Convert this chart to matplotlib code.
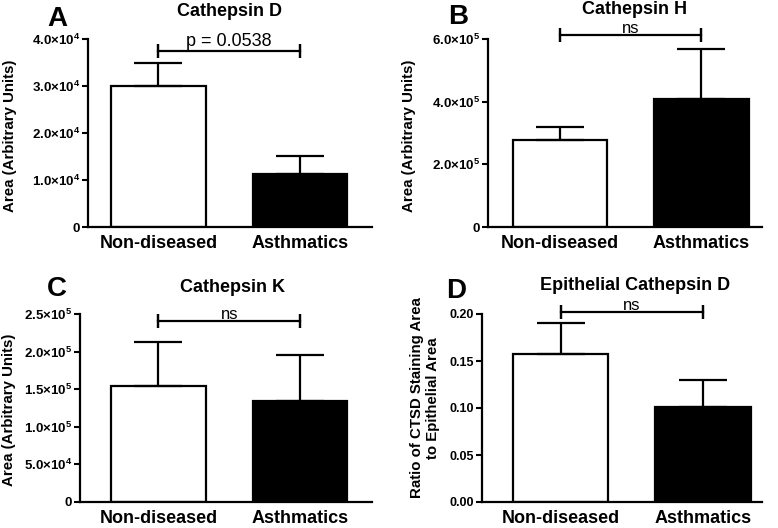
import matplotlib
matplotlib.use("Agg")
import matplotlib.pyplot as plt
import numpy as np

plt.rcParams['font.family'] = ['Liberation Sans', 'DejaVu Sans']
plt.rcParams['mathtext.fontset'] = 'custom'
plt.rcParams['mathtext.rm'] = 'Liberation Sans'
plt.rcParams['mathtext.bf'] = 'Liberation Sans:bold'
plt.rcParams['mathtext.it'] = 'Liberation Sans:italic'

# ---------------- data ----------------
groups = ["Non-diseased", "Asthmatics"]
bar_colors = ["white", "black"]

titles = ["Cathepsin D", "Cathepsin H", "Cathepsin K", "Epithelial Cathepsin D"]
letters = ["A", "B", "C", "D"]
ylabels = ["Area (Arbitrary Units)", "Area (Arbitrary Units)",
           "Area (Arbitrary Units)", "Ratio of CTSD Staining Area\nto Epithelial Area"]

means_A = [30000, 11300]
sem_A = [4900, 3800]
means_B = [2.78e5, 4.09e5]
sem_B = [0.41e5, 1.59e5]
means_C = [1.545e5, 1.34e5]
sem_C = [0.585e5, 0.61e5]
means_D = [0.157, 0.101]
sem_D = [0.033, 0.029]

ticks_A = [0, 1e4, 2e4, 3e4, 4e4]
ticklabels_A = ["0", r"$\mathbf{1.0{\times}10^{4}}$", r"$\mathbf{2.0{\times}10^{4}}$",
                r"$\mathbf{3.0{\times}10^{4}}$", r"$\mathbf{4.0{\times}10^{4}}$"]
ticks_B = [0, 2e5, 4e5, 6e5]
ticklabels_B = ["0", r"$\mathbf{2.0{\times}10^{5}}$", r"$\mathbf{4.0{\times}10^{5}}$",
                r"$\mathbf{6.0{\times}10^{5}}$"]
ticks_C = [0, 5e4, 1e5, 1.5e5, 2e5, 2.5e5]
ticklabels_C = ["0", r"$\mathbf{5.0{\times}10^{4}}$", r"$\mathbf{1.0{\times}10^{5}}$",
                r"$\mathbf{1.5{\times}10^{5}}$", r"$\mathbf{2.0{\times}10^{5}}$",
                r"$\mathbf{2.5{\times}10^{5}}$"]
ticks_D = [0.0, 0.05, 0.10, 0.15, 0.20]
ticklabels_D = ["0.00", "0.05", "0.10", "0.15", "0.20"]

sig_labels = ["p = 0.0538", "ns", "ns", "ns"]
sig_heights = [37450, 6.13e5, 2.407e5, 0.2021]

# ---------------- layout (pixels) ----------------
W, H = 778, 528
fig = plt.figure(figsize=(W / 100, H / 100), dpi=100)

def px_rect(l, t, r, b):
    return [l / W, 1 - b / H, (r - l) / W, (b - t) / H]

panels = [
    dict(rect=px_rect(88, 39, 372, 227), xlim=(-0.498, 1.509), means=means_A, sem=sem_A,
         ticks=ticks_A, tl=ticklabels_A, title_xy=(230, 12), letter_xy=(57, 19), ylab_xy=(10, 136)),
    dict(rect=px_rect(488, 39, 762, 227), xlim=(-0.509, 1.43), means=means_B, sem=sem_B,
         ticks=ticks_B, tl=ticklabels_B, title_xy=(635, 9), letter_xy=(458, 17), ylab_xy=(409, 136)),
    dict(rect=px_rect(80, 314, 372, 502), xlim=(-0.555, 1.51), means=means_C, sem=sem_C,
         ticks=ticks_C, tl=ticklabels_C, title_xy=(233, 287), letter_xy=(57, 289), ylab_xy=(9, 410)),
    dict(rect=px_rect(482, 314, 762, 502), xlim=(-0.551, 1.414), means=means_D, sem=sem_D,
         ticks=ticks_D, tl=ticklabels_D, title_xy=(635, 285), letter_xy=(456, 291), ylab_xy=(425, 398)),
]

x = np.arange(len(groups))
for i, p in enumerate(panels):
    ax = fig.add_axes(p["rect"])
    ax.bar(x, p["means"], width=0.67, color=bar_colors, edgecolor="black", linewidth=1.6, zorder=2)
    ax.errorbar(x, p["means"], yerr=[np.zeros(2), p["sem"]], fmt="none", ecolor="black",
                elinewidth=1.6, capsize=17, capthick=1.6, zorder=3)
    ax.set_xlim(*p["xlim"])
    ax.set_ylim(0, p["ticks"][-1])
    ax.set_yticks(p["ticks"])
    ax.set_yticklabels(p["tl"], fontsize=9 if i == 3 else 9.5, fontweight="bold")
    ax.set_xticks(x)
    ax.set_xticklabels(groups, fontsize=13, fontweight="bold")
    ax.tick_params(axis="x", length=0, pad=6)
    ax.tick_params(axis="y", length=4, width=1.5, pad=1.5)
    for s in ["top", "right"]:
        ax.spines[s].set_visible(False)
    for s in ["left", "bottom"]:
        ax.spines[s].set_linewidth(1.6)
    ax.spines["left"].set_bounds(0, p["ticks"][-1])

    # significance bracket
    yb = sig_heights[i]
    ax.plot([x[0], x[1]], [yb, yb], color="black", lw=1.6, clip_on=False, zorder=4)
    ax.plot([x[0], x[0]], [yb, yb], marker="|", markersize=10, mew=1.6, color="black", clip_on=False)
    ax.plot([x[1], x[1]], [yb, yb], marker="|", markersize=10, mew=1.6, color="black", clip_on=False)
    ax.annotate(sig_labels[i], xy=((x[0] + x[1]) / 2, yb), xytext=(0, 0.5 if i == 0 else -0.5),
                textcoords="offset points", ha="center", va="bottom",
                fontsize=13 if i == 0 else 12, annotation_clip=False)

    tx, ty = p["title_xy"]
    fig.text(tx / W, 1 - ty / H, titles[i], ha="center", va="center", fontsize=13, fontweight="bold")
    lx, ly = p["letter_xy"]
    fig.text(lx / W, 1 - ly / H, letters[i], ha="center", va="center", fontsize=20, fontweight="bold")
    yx, yy = p["ylab_xy"]
    fig.text(yx / W, 1 - yy / H, ylabels[i], ha="center", va="center", rotation=90,
             fontsize=10.8, fontweight="bold", linespacing=1.1)

fig.savefig("out.png", dpi=100)
